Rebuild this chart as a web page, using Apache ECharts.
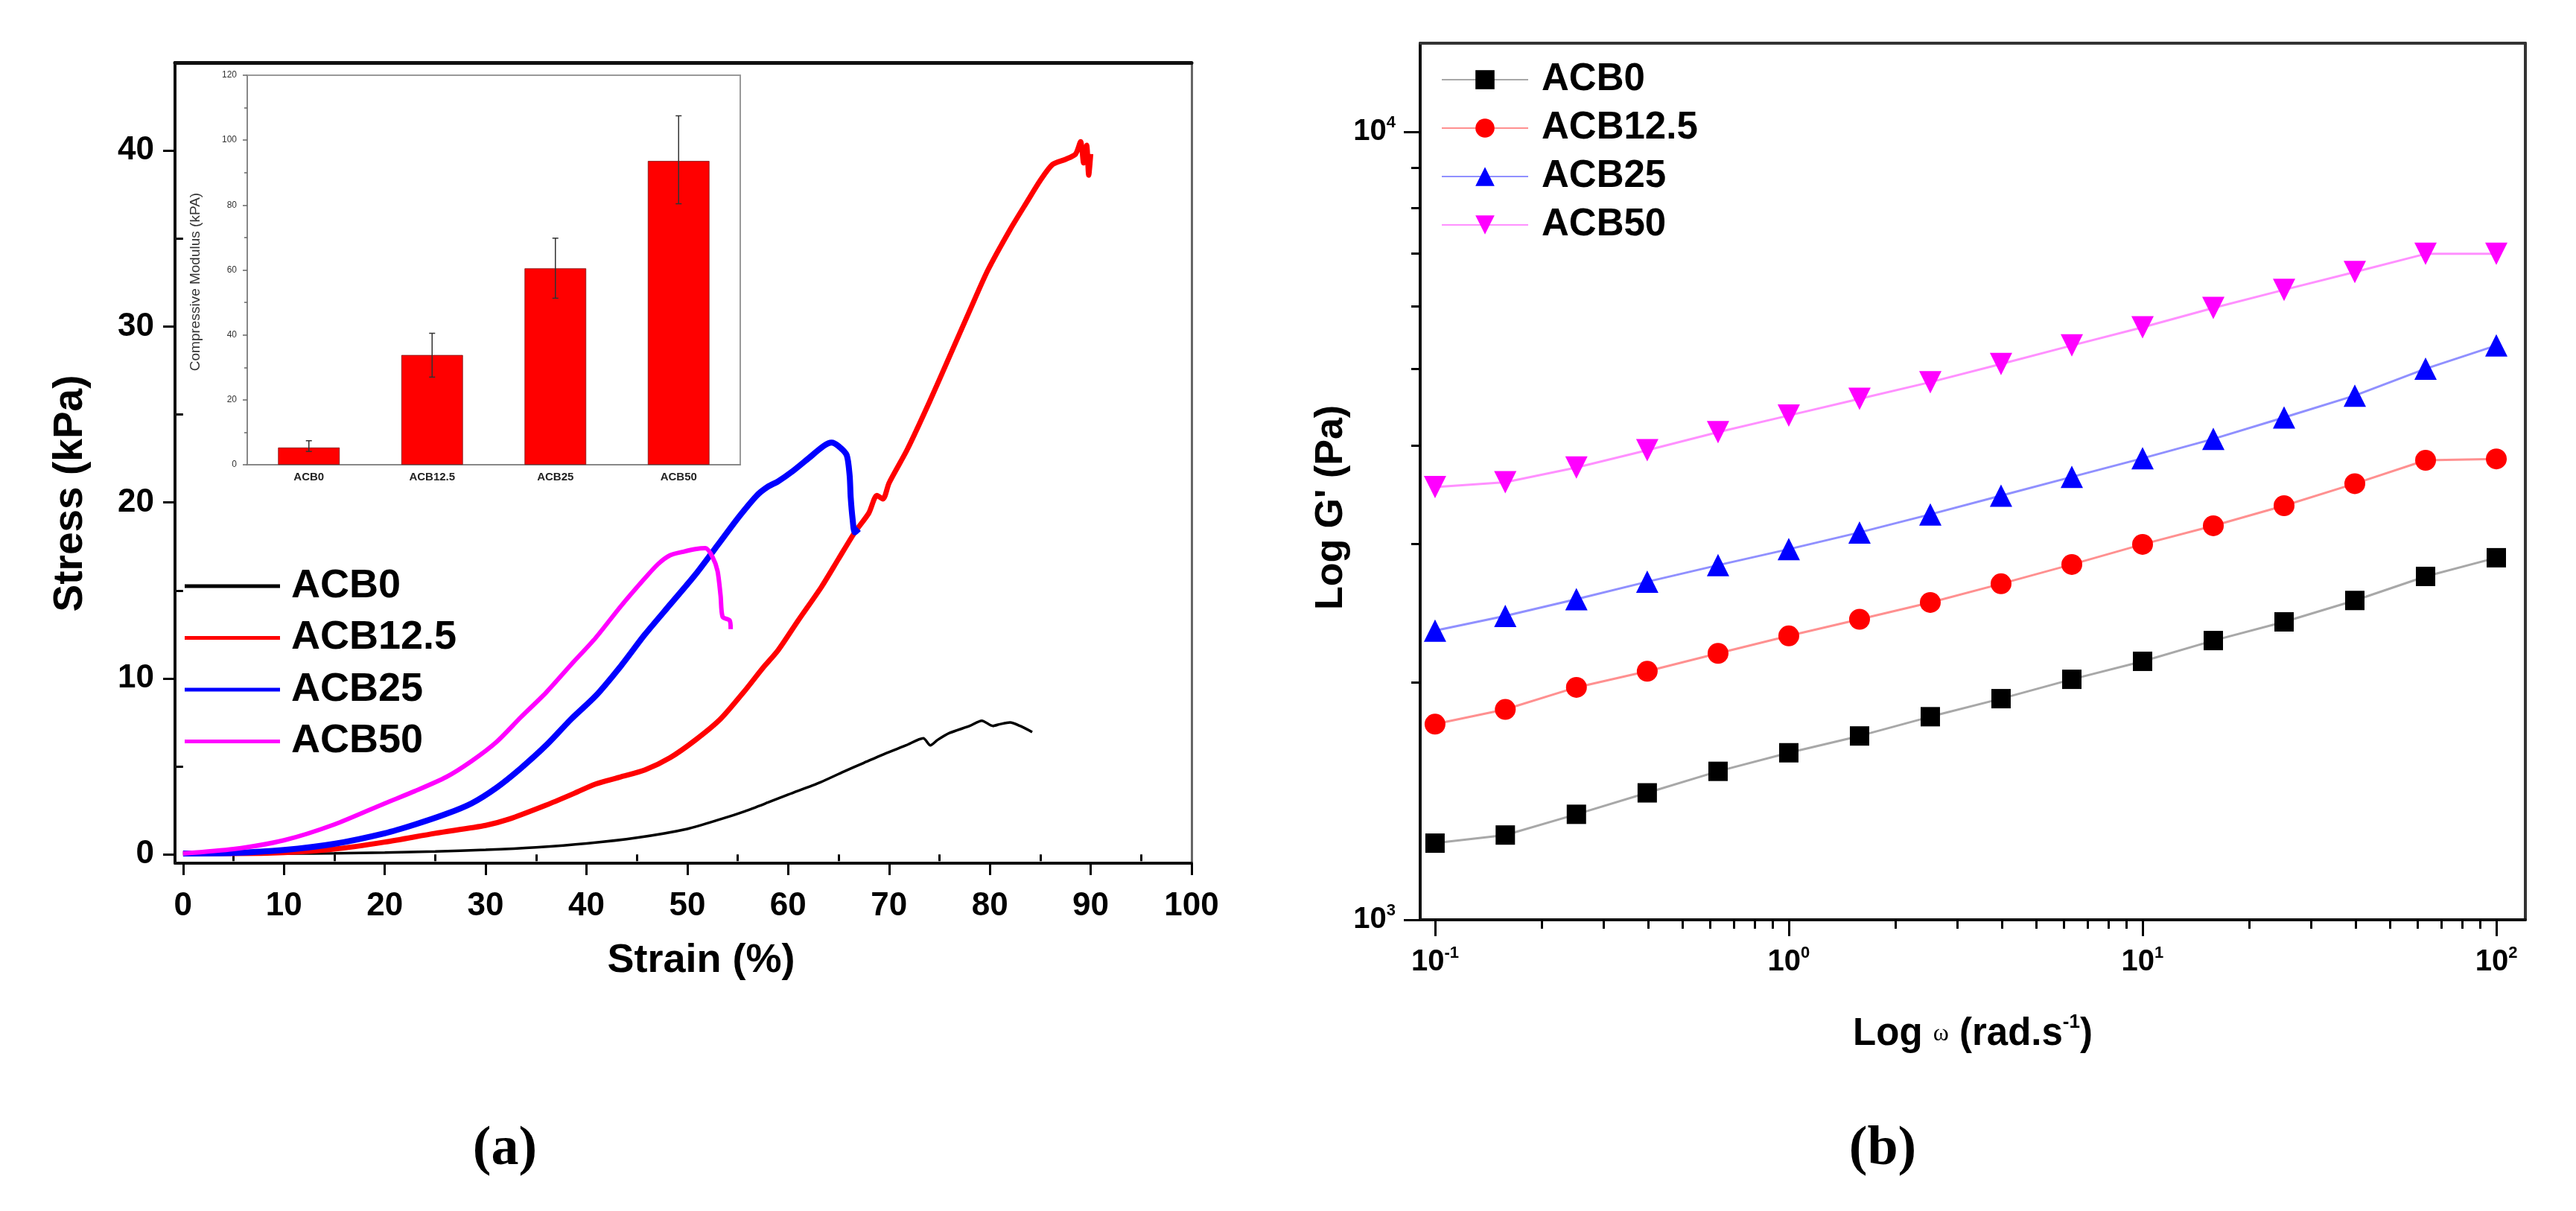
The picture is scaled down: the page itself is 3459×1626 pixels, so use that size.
<!DOCTYPE html>
<html>
<head>
<meta charset="utf-8">
<script src="https://cdn.jsdelivr.net/npm/echarts@6/dist/echarts.min.js"></script>
<style>
    html, body { margin: 0; padding: 0; background: #fff; }
    #main { width: 3459px; height: 1626px; }
</style>
</head>
<body>
<div id="main"></div>
<script>
// (a) stress-strain curves, each point is [strain %, stress kPa]
const acb0Curve = [[0, 0.05], [5, 0.05], [10, 0.05], [15, 0.06], [20, 0.1], [25, 0.17], [30, 0.26], [35, 0.4], [40, 0.62],
    [45, 0.95], [50, 1.45], [53.3, 2.0], [55.7, 2.45], [58, 2.95], [60, 3.4], [63.2, 4.1], [65.5, 4.7], [67.5, 5.2],
    [69.5, 5.7], [71.7, 6.2], [73.4, 6.6], [74.1, 6.2], [74.8, 6.5], [76, 6.9], [78, 7.3], [79.2, 7.6], [80.3, 7.3],
    [81, 7.4], [82, 7.5], [83, 7.3], [84.2, 6.95]];
const acb12Curve = [[0, 0.05], [5, 0.05], [10, 0.1], [15, 0.3], [20, 0.7], [25, 1.2], [30, 1.65], [32.3, 2.0], [36, 2.8],
    [38.5, 3.4], [40.9, 4.0], [43.4, 4.4], [45.8, 4.8], [48.3, 5.5], [50.8, 6.5], [53.3, 7.7], [55.7, 9.3], [57.5, 10.6],
    [59, 11.6], [61, 13.3], [63.3, 15.2], [65, 16.8], [66.6, 18.3], [68, 19.4], [68.8, 20.4], [69.4, 20.2], [70, 21.1],
    [71.8, 23.0], [74, 25.7], [76, 28.3], [78, 30.9], [79.8, 33.2], [82, 35.5], [83.7, 37.1], [85, 38.3], [86.2, 39.2],
    [87.5, 39.5], [88.5, 39.8], [89, 40.5], [89.3, 39.3], [89.6, 40.3], [89.8, 38.6], [90, 39.8]];
const acb25Curve = [[0, 0.05], [5, 0.08], [10, 0.25], [15, 0.6], [20, 1.2], [23, 1.7], [26.1, 2.3], [28.6, 2.9], [31.1, 3.8],
    [33.5, 4.9], [36, 6.2], [38.5, 7.7], [40.9, 9.0], [43.4, 10.7], [45.8, 12.5], [48.3, 14.2], [50.8, 15.9], [53.3, 17.8],
    [55, 19.1], [56.9, 20.4], [58, 20.9], [59, 21.2], [60.5, 21.8], [62, 22.5], [63.5, 23.2], [64.3, 23.4], [65, 23.2],
    [65.8, 22.7], [66.1, 21.5], [66.2, 20.3], [66.4, 19.0], [66.6, 18.3], [67, 18.5]];
const acb50Curve = [[0, 0.05], [5, 0.3], [10, 0.8], [15, 1.7], [20, 2.9], [23, 3.6], [26.1, 4.4], [28.6, 5.3], [31.1, 6.4],
    [33.5, 7.8], [36, 9.2], [38.5, 10.8], [40.9, 12.3], [43.4, 14.1], [45.8, 15.7], [47.1, 16.5], [48.3, 17.0],
    [49.6, 17.2], [50.8, 17.35], [51.8, 17.4], [52.5, 16.9], [53, 16.1], [53.3, 14.7], [53.5, 13.5], [54.2, 13.3], [54.3, 12.8]];

// (a) inset: compressive modulus (kPa) with error bars
const samples = ['ACB0', 'ACB12.5', 'ACB25', 'ACB50'];
const modulus = [5.3, 33.8, 60.5, 93.6];
const modulusLow = [4.1, 27, 51.3, 80.4];
const modulusHigh = [7.4, 40.5, 69.8, 107.5];

const strainTicks = [0, 10, 20, 30, 40, 50, 60, 70, 80, 90, 100];
const strainMinor = [5, 15, 25, 35, 45, 55, 65, 75, 85, 95];
const stressTicks = [0, 10, 20, 30, 40];
const stressMinor = [5, 15, 25, 35];

// (b) storage modulus vs angular frequency
const omega = [0.1, 0.158, 0.251, 0.398, 0.631, 1, 1.585, 2.512, 3.981, 6.31, 10, 15.85, 25.12, 39.81, 63.1, 100];
const gAcb0 = [1251, 1281, 1361, 1449, 1543, 1629, 1711, 1810, 1908, 2019, 2128, 2261, 2388, 2542, 2727, 2880];
const gAcb12 = [1771, 1849, 1972, 2067, 2178, 2292, 2406, 2527, 2669, 2824, 2995, 3162, 3353, 3576, 3829, 3844];
const gAcb25 = [2328, 2430, 2552, 2685, 2818, 2953, 3101, 3269, 3453, 3647, 3851, 4075, 4339, 4625, 5003, 5355];
const gAcb50 = [3540, 3591, 3748, 3943, 4156, 4364, 4581, 4810, 5072, 5355, 5646, 5974, 6300, 6637, 6998, 6998];

const omegaTicks = [0.1, 1, 10, 100];
const omegaMinor = [0.2, 0.3, 0.4, 0.5, 0.6, 0.7, 0.8, 0.9, 2, 3, 4, 5, 6, 7, 8, 9, 20, 30, 40, 50, 60, 70, 80, 90];
const gTicks = [1000, 10000];
const gMinor = [2000, 3000, 4000, 5000, 6000, 7000, 8000, 9000];

const sans = "'Liberation Sans', Arial, sans-serif";
const narrow = "'Liberation Sans Narrow', 'Arial Narrow', 'Liberation Sans', sans-serif";

const chart = echarts.init(document.getElementById('main'), null, { renderer: 'canvas' });

function pairs(xs, ys) {
    return xs.map((x, i) => [x, ys[i]]);
}

// blank axis used only to draw a border line
function borderAxis(grid, pos, color, width) {
    return {
        type: 'value', gridIndex: grid, position: pos, min: 0, max: 1,
        axisLine: { show: true, onZero: false, lineStyle: { color: color, width: width } },
        axisTick: { show: false }, axisLabel: { show: false }, splitLine: { show: false }
    };
}

// second copy of an axis that only draws the short minor ticks
function minorAxis(base, values, len) {
    return Object.assign({}, base, {
        name: '',
        axisLine: { show: false },
        axisTick: { show: true, customValues: values, length: len, lineStyle: { color: '#000', width: 3 } },
        axisLabel: { show: false },
        splitLine: { show: false }
    });
}

const supLabel = v => '{b|10}{s|' + Math.round(Math.log10(v)) + '}';
const supRich = {
    b: { fontSize: 40, fontWeight: 'bold', fontFamily: narrow, color: '#000', lineHeight: 46 },
    s: { fontSize: 22, fontWeight: 'bold', fontFamily: narrow, color: '#000', lineHeight: 24, verticalAlign: 'top' }
};

const strainAxis = {
    type: 'value', gridIndex: 0, position: 'bottom', min: -0.8, max: 100,
    name: 'Strain (%)', nameLocation: 'middle', nameGap: 104,
    nameTextStyle: { fontSize: 54, fontWeight: 'bold', fontFamily: sans, color: '#000', padding: [0, 0, 0, 48] },
    axisLine: { show: true, onZero: false, lineStyle: { color: '#111', width: 4 } },
    axisTick: { show: true, customValues: strainTicks, length: 16, lineStyle: { color: '#000', width: 3 } },
    axisLabel: { customValues: strainTicks, margin: 36, fontSize: 44, fontWeight: 'bold', fontFamily: sans, color: '#000' },
    splitLine: { show: false }
};
const stressAxis = {
    type: 'value', gridIndex: 0, position: 'left', min: -0.5, max: 45,
    name: 'Stress (kPa)', nameLocation: 'middle', nameGap: 113,
    nameTextStyle: { fontSize: 55, fontWeight: 'bold', fontFamily: sans, color: '#000', padding: [0, 82, 0, 0] },
    axisLine: { show: true, onZero: false, lineStyle: { color: '#111', width: 4 } },
    axisTick: { show: true, customValues: stressTicks, length: 16, lineStyle: { color: '#000', width: 3 } },
    axisLabel: { customValues: stressTicks, margin: 28, fontSize: 44, fontWeight: 'bold', fontFamily: sans, color: '#000' },
    splitLine: { show: false }
};
const omegaAxis = {
    type: 'log', logBase: 10, gridIndex: 2, position: 'bottom', min: 0.0908, max: 120.8,
    name: '{b|Log }{w|ω}{b| (rad.s}{s|-1}{b|)}', nameLocation: 'middle', nameGap: 125,
    nameTextStyle: {
        rich: {
            b: { fontSize: 51, fontWeight: 'bold', fontFamily: sans, color: '#000', lineHeight: 58 },
            w: { fontSize: 32, fontFamily: "'Liberation Serif', serif", color: '#000', lineHeight: 58 },
            s: { fontSize: 26, fontWeight: 'bold', fontFamily: sans, color: '#000', lineHeight: 28, verticalAlign: 'top' }
        }
    },
    axisLine: { show: true, onZero: false, lineStyle: { color: '#111', width: 4 } },
    axisTick: { show: true, customValues: omegaTicks, length: 22, lineStyle: { color: '#000', width: 3 } },
    axisLabel: { customValues: omegaTicks, margin: 34, formatter: supLabel, rich: supRich },
    splitLine: { show: false }
};
const gAxis = {
    type: 'log', logBase: 10, gridIndex: 2, position: 'left', min: 1000, max: 12950,
    name: "Log G' (Pa)", nameLocation: 'middle', nameGap: 56,
    nameTextStyle: { fontSize: 52, fontWeight: 'bold', fontFamily: sans, color: '#000', padding: [0, 70, 0, 0] },
    axisLine: { show: true, onZero: false, lineStyle: { color: '#111', width: 4 } },
    axisTick: { show: true, customValues: gTicks, length: 22, lineStyle: { color: '#000', width: 3 } },
    axisLabel: { customValues: gTicks, margin: 33, formatter: supLabel, rich: supRich },
    splitLine: { show: false }
};

const option = {
    animation: false,
    backgroundColor: '#fff',
    grid: [
        { left: 235, top: 84, width: 1365, height: 1075 },
        { left: 332, top: 101, width: 662, height: 523 },
        { left: 1907, top: 58, width: 1484, height: 1177 }
    ],
    xAxis: [
        strainAxis,
        minorAxis(strainAxis, strainMinor, 9),
        borderAxis(0, 'top', '#111', 5),
        {
            type: 'category', gridIndex: 1, data: samples,
            axisLine: { lineStyle: { color: '#888', width: 2 } },
            axisTick: { alignWithLabel: true, length: 6, lineStyle: { color: '#666', width: 1.5 } },
            axisLabel: { fontSize: 15, fontWeight: 'bold', fontFamily: narrow, color: '#222', margin: 9 }
        },
        borderAxis(1, 'top', '#999', 2),
        omegaAxis,
        minorAxis(omegaAxis, omegaMinor, 12),
        borderAxis(2, 'top', '#333', 4)
    ],
    yAxis: [
        stressAxis,
        minorAxis(stressAxis, stressMinor, 9),
        borderAxis(0, 'right', '#666', 3),
        {
            type: 'value', gridIndex: 1, min: 0, max: 120, interval: 20,
            name: 'Compressive Modulus (kPA)', nameLocation: 'middle', nameGap: 60,
            nameTextStyle: { fontSize: 19, fontFamily: sans, color: '#333', padding: [0, 32, 0, 0] },
            axisLine: { show: true, lineStyle: { color: '#888', width: 2 } },
            axisTick: { show: true, length: 6, lineStyle: { color: '#666', width: 1.5 } },
            minorTick: { show: true, splitNumber: 2, length: 4, lineStyle: { color: '#666', width: 1.5 } },
            axisLabel: { fontSize: 12, fontFamily: sans, color: '#333', margin: 14 },
            splitLine: { show: false }
        },
        borderAxis(1, 'right', '#999', 2),
        gAxis,
        minorAxis(gAxis, gMinor, 12),
        borderAxis(2, 'right', '#333', 4)
    ],
    legend: [
        {
            orient: 'vertical', left: 248, top: 757, padding: 0,
            data: samples, icon: 'rect', itemWidth: 128, itemHeight: 5, itemGap: 9.5,
            selectedMode: false,
            textStyle: { fontSize: 54, fontWeight: 'bold', fontFamily: sans, color: '#000', lineHeight: 60, padding: [0, 0, 0, 10] }
        },
        {
            orient: 'vertical', left: 1935, top: 78, padding: 0,
            data: samples.map(s => 'b-' + s), itemWidth: 116, itemHeight: 32, itemGap: 7,
            selectedMode: false,
            formatter: n => n.replace('b-', ''),
            textStyle: { fontSize: 51, fontWeight: 'bold', fontFamily: sans, color: '#000', lineHeight: 58, padding: [0, 0, 0, 13] }
        }
    ],
    graphic: [
        { type: 'text', x: 678, y: 1544, style: { text: '(a)', fontSize: 74, fontWeight: 'bold', fontFamily: "'Liberation Serif', serif", fill: '#000', align: 'center', verticalAlign: 'middle' } },
        { type: 'text', x: 2528, y: 1544, style: { text: '(b)', fontSize: 74, fontWeight: 'bold', fontFamily: "'Liberation Serif', serif", fill: '#000', align: 'center', verticalAlign: 'middle' } }
    ],
    series: [
        // (a) curves
        { name: 'ACB0', type: 'line', xAxisIndex: 0, yAxisIndex: 0, data: acb0Curve, showSymbol: false, smooth: 0.25, color: '#000', lineStyle: { width: 3.5 } },
        { name: 'ACB12.5', type: 'line', xAxisIndex: 0, yAxisIndex: 0, data: acb12Curve, showSymbol: false, smooth: 0.25, color: '#ff0000', lineStyle: { width: 7 } },
        { name: 'ACB25', type: 'line', xAxisIndex: 0, yAxisIndex: 0, data: acb25Curve, showSymbol: false, smooth: 0.25, color: '#0000ff', lineStyle: { width: 8 } },
        { name: 'ACB50', type: 'line', xAxisIndex: 0, yAxisIndex: 0, data: acb50Curve, showSymbol: false, smooth: 0.25, color: '#ff00ff', lineStyle: { width: 6 } },
        // (a) inset bars + error bars
        {
            name: 'modulus', type: 'bar', xAxisIndex: 3, yAxisIndex: 3, data: modulus, barWidth: '50%',
            itemStyle: { color: '#ff0000', borderColor: '#7a1010', borderWidth: 0.8 }
        },
        {
            name: 'error', type: 'custom', xAxisIndex: 3, yAxisIndex: 3,
            data: samples.map((s, i) => [i, modulusLow[i], modulusHigh[i]]),
            renderItem: function (params, api) {
                const lo = api.coord([api.value(0), api.value(1)]);
                const hi = api.coord([api.value(0), api.value(2)]);
                const style = { stroke: '#333', lineWidth: 1.5 };
                return {
                    type: 'group',
                    children: [
                        { type: 'line', shape: { x1: hi[0], y1: hi[1], x2: lo[0], y2: lo[1] }, style: style },
                        { type: 'line', shape: { x1: hi[0] - 4, y1: hi[1], x2: hi[0] + 4, y2: hi[1] }, style: style },
                        { type: 'line', shape: { x1: lo[0] - 4, y1: lo[1], x2: lo[0] + 4, y2: lo[1] }, style: style }
                    ]
                };
            },
            z: 5
        },
        // (b) G' vs omega
        {
            name: 'b-ACB0', type: 'line', xAxisIndex: 5, yAxisIndex: 5, data: pairs(omega, gAcb0),
            symbol: 'rect', symbolSize: 26, itemStyle: { color: '#000' }, lineStyle: { color: '#a8a8a8', width: 3 }
        },
        {
            name: 'b-ACB12.5', type: 'line', xAxisIndex: 5, yAxisIndex: 5, data: pairs(omega, gAcb12),
            symbol: 'circle', symbolSize: 28, itemStyle: { color: '#ff0000' }, lineStyle: { color: '#ff9090', width: 3 }
        },
        {
            name: 'b-ACB25', type: 'line', xAxisIndex: 5, yAxisIndex: 5, data: pairs(omega, gAcb25),
            symbol: 'triangle', symbolSize: 30, itemStyle: { color: '#0000ff' }, lineStyle: { color: '#9090ff', width: 3 }
        },
        {
            name: 'b-ACB50', type: 'line', xAxisIndex: 5, yAxisIndex: 5, data: pairs(omega, gAcb50),
            symbol: 'triangle', symbolRotate: 180, symbolSize: 30, itemStyle: { color: '#ff00ff' }, lineStyle: { color: '#ff90ff', width: 3 }
        }
    ]
};

chart.setOption(option);
</script>
</body>
</html>
